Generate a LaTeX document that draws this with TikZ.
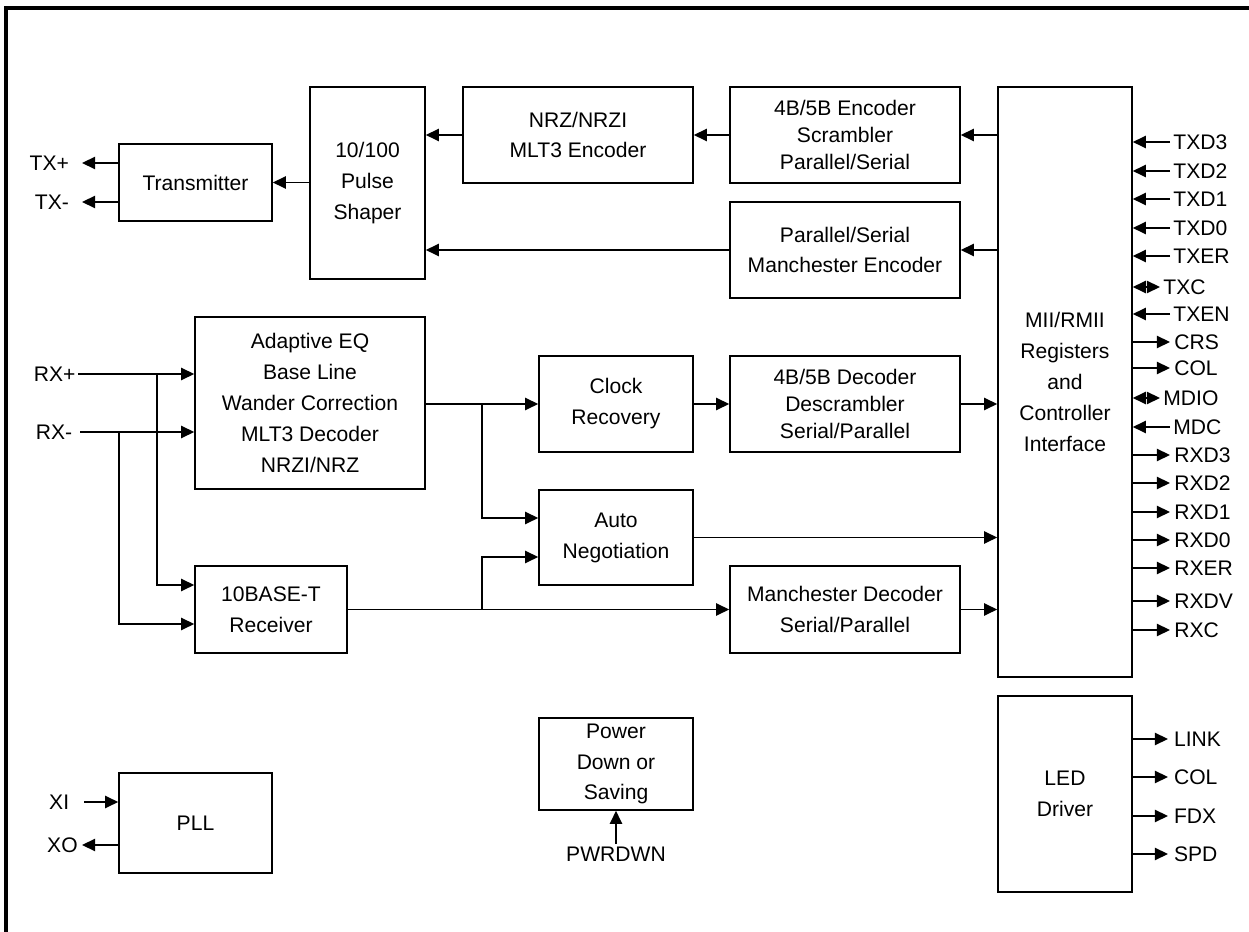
\documentclass[tikz,border=0pt]{standalone}
\usepackage{fontspec}
\setmainfont{Liberation Sans}
\usetikzlibrary{arrows.meta}

\begin{document}
\begin{tikzpicture}[x=0.02cm, y=-0.02cm, line width=0.9pt, >={Triangle[length=7.5pt,width=7pt]},
    blk/.style={draw, align=center, inner sep=0pt, font=\fontsize{12}{17.6}\selectfont},
    pin/.style={inner ysep=1pt, inner xsep=2pt, font=\fontsize{12}{14}\selectfont}]
    \useasboundingbox (0,0) rectangle (1249,932);
    \draw[line width=1.8pt] (1249,8) -- (6,8) -- (6,932);

    % transmit path
    \node[blk, minimum width=3.06cm, minimum height=1.54cm] (tx) at (195.5,182.5) {Transmitter};
    \node[blk, minimum width=2.3cm, minimum height=3.84cm] (pulse) at (367.5,183) {10/100\\Pulse\\Shaper};
    \node[blk, minimum width=4.6cm, minimum height=1.92cm] (nrz) at (578,135) {NRZ/NRZI\\MLT3 Encoder};
    \node[blk, minimum width=4.6cm, minimum height=1.92cm, font=\fontsize{12}{15.5}\selectfont] (enc) at (845,135) {4B/5B Encoder\\Scrambler\\Parallel/Serial};
    \node[blk, minimum width=4.6cm, minimum height=1.92cm] (menc) at (845,250) {Parallel/Serial\\Manchester Encoder};
    \node[blk, minimum width=2.68cm, minimum height=11.8cm] (mii) at (1065,382) {MII/RMII\\Registers\\and\\Controller\\Interface};

    % receive path
    \node[blk, minimum width=4.6cm, minimum height=3.44cm] (eq) at (310,403) {Adaptive EQ\\Base Line\\Wander Correction\\MLT3 Decoder\\NRZI/NRZ};
    \node[blk, minimum width=3.08cm, minimum height=1.92cm] (clk) at (616,404) {Clock\\Recovery};
    \node[blk, minimum width=4.6cm, minimum height=1.92cm, font=\fontsize{12}{15.5}\selectfont] (dec) at (845,404) {4B/5B Decoder\\Descrambler\\Serial/Parallel};
    \node[blk, minimum width=3.08cm, minimum height=1.9cm] (aneg) at (616,537.5) {Auto\\Negotiation};
    \node[blk, minimum width=3.04cm, minimum height=1.74cm] (rx10) at (271,609.5) {10BASE-T\\Receiver};
    \node[blk, minimum width=4.6cm, minimum height=1.74cm] (mdec) at (845,609.5) {Manchester Decoder\\Serial/Parallel};

    % misc blocks
    \node[blk, minimum width=3.08cm, minimum height=1.84cm] (pwr) at (616,764) {Power\\Down or\\Saving};
    \node[blk, minimum width=3.06cm, minimum height=2cm] (pll) at (195.5,823) {PLL};
    \node[blk, minimum width=2.68cm, minimum height=3.92cm] (led) at (1065,794) {LED\\Driver};

    % left pins
    \node[pin, anchor=east, inner xsep=7pt] (txp) at (82,163) {TX+};
    \node[pin, anchor=east, inner xsep=7pt] (txm) at (82,202) {TX-};
    \node[pin, anchor=east, inner xsep=1pt] (rxp) at (78,374) {RX+};
    \node[pin, anchor=east, inner xsep=4pt] (rxm) at (80,432) {RX-};
    \node[pin, anchor=east, inner xsep=8pt] (xi) at (84,802) {XI};
    \node[pin, anchor=east] (xo) at (82,845) {XO};
    \node[pin] (pwrdn) at (616,854) {PWRDWN};

    \coordinate (jrxp) at (157,374);
    \coordinate (jrxm) at (119,432);
    \coordinate (jeq) at (482,404);
    \coordinate (j10) at (482,609.5);

    \draw[->] (mii.west |- enc) -- (enc);
    \draw[->] (mii.west |- menc) -- (menc);
    \draw[->] (enc) -- (nrz);
    \draw[->] (nrz.west) -- (nrz.west -| pulse.east);
    \draw[->] (menc.west) -- (menc.west -| pulse.east);
    \draw[->] (pulse.west |- tx) -- (tx);
    \draw[->] (tx.west |- txp) -- (txp.east);
    \draw[->] (tx.west |- txm) -- (txm.east);

    \draw[->] (rxp.east) -- (eq.west |- rxp);
    \draw[->] (rxm.east) -- (eq.west |- rxm);
    \draw[->] (jrxp) |- (rx10.west |- 0,585);
    \draw[->] (jrxm) |- (rx10.west |- 0,624);
    \draw[->] (eq.east |- clk) -- (clk.west);
    \draw[->] (jeq) |- (aneg.west |- 0,518);
    \draw[->] (clk) -- (dec);
    \draw[->] (dec) -- (dec -| mii.west);
    \draw[->] (aneg) -- (aneg -| mii.west);
    \draw[->] (rx10) -- (mdec);
    \draw[->] (j10) |- (aneg.west |- 0,557);
    \draw[->] (mdec) -- (mdec -| mii.west);

    \draw[->] (pwrdn.north) -- (pwr.south);
    \draw[->] (xi.east) -- (pll.west |- xi);
    \draw[->] (pll.west |- xo) -- (xo.east);

    % MII pins
    \foreach \name/\y in {TXD3/142,TXD2/171,TXD1/199,TXD0/228,TXER/256,TXEN/314,MDC/427} {
        \node[pin, anchor=west, inner xsep=1.5pt] (p\name) at (1170,\y) {\name};
        \draw[->] (p\name.west) -- (mii.east |- p\name);
    }
    \foreach \name/\y in {TXC/287,MDIO/398} {
        \node[pin, anchor=west, inner xsep=1.5pt] (p\name) at (1160,\y) {\name};
        \draw[<->] (mii.east |- p\name) -- (p\name.west);
    }
    \foreach \name/\y in {CRS/342,COL/368,RXD3/455,RXD2/483,RXD1/512,RXD0/540,RXER/568,RXDV/601,RXC/630} {
        \node[pin, anchor=west] (p\name) at (1170,\y) {\name};
        \draw[->] (mii.east |- p\name) -- (p\name.west);
    }

    % LED pins
    \foreach \name/\y in {LINK/739,COL/777,FDX/816,SPD/854} {
        \node[pin, anchor=west, inner xsep=3pt] (l\name) at (1168,\y) {\name};
        \draw[->] (led.east |- l\name) -- (l\name.west);
    }
\end{tikzpicture}
\end{document}
